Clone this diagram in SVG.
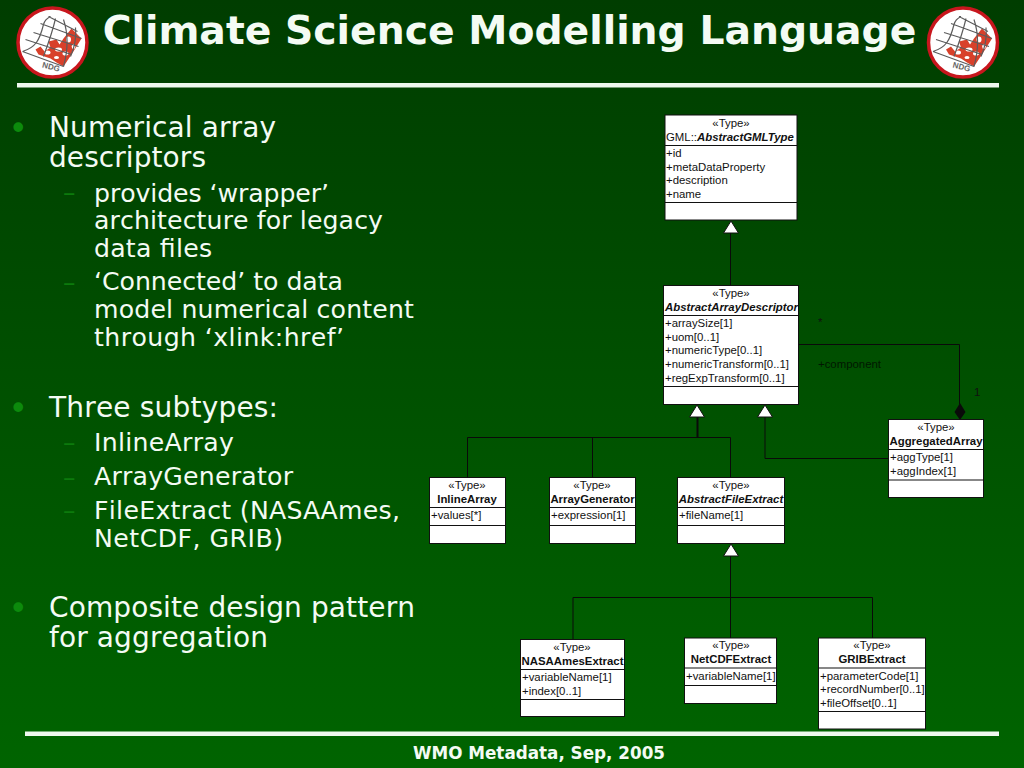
<svg xmlns="http://www.w3.org/2000/svg" xmlns:xlink="http://www.w3.org/1999/xlink" width="1024" height="768" viewBox="0 0 1024 768">
<style>
.t{font-family:"DejaVu Sans",sans-serif;fill:#f4fbf4;font-kerning:none}
.l1{font-size:28px}
.l2{font-size:25.200px}
.b{fill:#0c8a0c;font-family:"DejaVu Sans",sans-serif}
.k{font-size:33px}
.d{font-size:25px;fill:#0c7a0c}
.box{fill:#fff;stroke:#111;stroke-width:1}
.sep{stroke:#111;stroke-width:1.2;fill:none}
.u{font-family:"Liberation Sans",Arial,sans-serif;font-size:11.4px;fill:#111}
.m{text-anchor:middle}
.bd{font-weight:bold}
.bi{font-weight:bold;font-style:italic}
.c{fill:none;stroke:#0a0a0a;stroke-width:1}
.tri{fill:#fff;stroke:#111;stroke-width:1}
.gl{stroke:#5c5c5c;stroke-width:1.200;fill:none}
.rd{fill:#d8402a}
</style>
<defs>
<linearGradient id="bg" x1="0" y1="0" x2="0" y2="1"><stop offset="0" stop-color="#003d00"/><stop offset="1" stop-color="#006400"/></linearGradient>
<g id="logo">
<circle cx="0" cy="0" r="34.500" fill="#fff" stroke="#c8161d" stroke-width="3.500"/>
<path class="rd" d="M-17 7L-12 4L-8 9L-2 5L-4 -1L4 -3L7 2L11 -4L15 -9L19 -14L29 -4L24 4L19 12L15 18L11 24L4 20L-2 16L-8 14L-14 12Z"/>
<g fill="#fff"><ellipse cx="-5" cy="10" rx="3" ry="2"/><ellipse cx="6" cy="7" rx="3.500" ry="2"/><ellipse cx="16" cy="-3" rx="2.500" ry="3"/><ellipse cx="13" cy="11" rx="3" ry="2"/><ellipse cx="4" cy="15" rx="2.500" ry="1.500"/><ellipse cx="21" cy="4" rx="1.800" ry="2.500"/></g>
<path class="gl" d="M-30 9L11 24M-27 -3L19 12M-19 -10L26 4M-12 -19L29 -4M-4 -26L25 -11M-30 9C-17 5 -13 -2 -9 -18C-8 -22 -6 -24 -2 -26M-9 14C-2 -5 1 -15 3 -24M11 24C16 6 16 -8 11 -23M18 14C23 3 24 -5 23 -15"/>
<text x="-2" y="27" font-family="Liberation Sans,sans-serif" font-size="8" font-weight="bold" fill="#666" text-anchor="middle" transform="rotate(14 -2 27)">NDG</text>
</g>
</defs>
<rect width="1024" height="768" fill="url(#bg)"/>
<g id="header">
<use xlink:href="#logo" x="52.500" y="42.500"/>
<use xlink:href="#logo" x="963" y="42.500"/>
<text x="509.500" y="44" class="t m" font-size="39.300" font-weight="bold" fill="#fff">Climate Science Modelling Language</text>
<rect x="17" y="83" width="982" height="4.500" fill="#eef8ee"/>
</g>
<g id="bullets">
<text x="8.500" y="140" class="b k">•</text>
<text x="49" y="137" class="t l1" textLength="227">Numerical array</text>
<text x="49" y="167" class="t l1" textLength="157">descriptors</text>
<text x="63" y="201" class="b d">–</text>
<text x="94" y="201.500" class="t l2" textLength="235">provides ‘wrapper’</text>
<text x="94" y="229" class="t l2" textLength="289">architecture for legacy</text>
<text x="94" y="257" class="t l2" textLength="118">data files</text>
<text x="63" y="291" class="b d">–</text>
<text x="94" y="290" class="t l2" textLength="249">‘Connected’ to data</text>
<text x="94" y="318" class="t l2" textLength="320">model numerical content</text>
<text x="94" y="346" class="t l2" textLength="250">through ‘xlink:href’</text>
<text x="8.500" y="420" class="b k">•</text>
<text x="49" y="417" class="t l1" textLength="229">Three subtypes:</text>
<text x="63" y="451" class="b d">–</text>
<text x="94" y="451" class="t l2" textLength="140">InlineArray</text>
<text x="63" y="486" class="b d">–</text>
<text x="94" y="485" class="t l2" textLength="199">ArrayGenerator</text>
<text x="63" y="519" class="b d">–</text>
<text x="94" y="519" class="t l2" textLength="306">FileExtract (NASAAmes,</text>
<text x="94" y="547" class="t l2" textLength="189">NetCDF, GRIB)</text>
<text x="8.500" y="620" class="b k">•</text>
<text x="49" y="617" class="t l1" textLength="366">Composite design pattern</text>
<text x="49" y="647" class="t l1" textLength="219">for aggregation</text>
</g>
<g id="connectors">
<path class="c" d="M730.500 233V285"/>
<path class="c" d="M697.500 417V437" style="stroke-width:2"/>
<path class="c" d="M467.500 477V437.500H730.500V477M592.500 437.500V477"/>
<path class="c" d="M765 417V458.500H889"/>
<path class="c" d="M799 344.500H959.500V404"/>
<path class="c" d="M730.500 556V638M573 639V597.500H872.500V638"/>
<polygon class="tri" points="731,221 738.500,233 723.500,233"/>
<polygon class="tri" points="697,405 704.500,417 689.500,417"/>
<polygon class="tri" points="765,405 772.500,417 757.500,417"/>
<polygon class="tri" points="731,544 738.500,556 723.500,556"/>
<polygon points="960,403 965.500,412 960,420 954.500,412" fill="#0a0a0a"/>
<text x="818" y="326" class="u">*</text>
<text x="818" y="368" class="u" style="fill:#011801">+component</text>
<text x="974" y="396" class="u">1</text>
</g>
<g id="AbstractGMLType">
<rect class="box" x="665" y="115" width="132" height="105"/>
<path class="sep" d="M665 145.500H797M665 202.500H797"/>
<text x="731" y="127" class="u m">«Type»</text>
<text x="666" y="141" class="u">GML::<tspan class="bi">AbstractGMLType</tspan></text>
<text x="666" y="157" class="u">+id</text><text x="666" y="171" class="u">+metaDataProperty</text><text x="666" y="184" class="u">+description</text><text x="666" y="198" class="u">+name</text>
</g>
<g id="AbstractArrayDescriptor">
<rect class="box" x="663.500" y="285.500" width="135" height="119"/>
<path class="sep" d="M663.500 315.500H798.500M663.500 386.500H798.500"/>
<text x="731" y="297" class="u m">«Type»</text>
<text x="665" y="311" class="u bi">AbstractArrayDescriptor</text>
<text x="665" y="327" class="u">+arraySize[1]</text><text x="665" y="341" class="u">+uom[0..1]</text><text x="665" y="354" class="u">+numericType[0..1]</text><text x="665" y="368" class="u">+numericTransform[0..1]</text><text x="665" y="382" class="u">+regExpTransform[0..1]</text>
</g>
<g id="AggregatedArray">
<rect class="box" x="888.500" y="419.500" width="95" height="78"/>
<path class="sep" d="M888.500 449.500H983.500M888.500 480H983.500"/>
<text x="936" y="431" class="u m">«Type»</text>
<text x="936" y="445" class="u m bd">AggregatedArray</text>
<text x="890" y="461" class="u">+aggType[1]</text><text x="890" y="475" class="u">+aggIndex[1]</text>
</g>
<g id="InlineArray">
<rect class="box" x="429.500" y="477.500" width="76" height="66"/>
<path class="sep" d="M429.500 507.500H505.500M429.500 525.500H505.500"/>
<text x="467" y="489" class="u m">«Type»</text>
<text x="467" y="503" class="u m bd">InlineArray</text>
<text x="431" y="519" class="u">+values[*]</text>
</g>
<g id="ArrayGenerator">
<rect class="box" x="549.500" y="477.500" width="86" height="66"/>
<path class="sep" d="M549.500 507.500H635.500M549.500 525.500H635.500"/>
<text x="592" y="489" class="u m">«Type»</text>
<text x="592.500" y="503" class="u m bd">ArrayGenerator</text>
<text x="551" y="519" class="u">+expression[1]</text>
</g>
<g id="AbstractFileExtract">
<rect class="box" x="677.500" y="477.500" width="107" height="66"/>
<path class="sep" d="M677.500 507.500H784.500M677.500 525.500H784.500"/>
<text x="731" y="489" class="u m">«Type»</text>
<text x="731" y="503" class="u m bi">AbstractFileExtract</text>
<text x="679" y="519" class="u">+fileName[1]</text>
</g>
<g id="NASAAmesExtract">
<rect class="box" x="520.500" y="639.500" width="104" height="77"/>
<path class="sep" d="M520.500 669.500H624.500M520.500 699.500H624.500"/>
<text x="572" y="651" class="u m">«Type»</text>
<text x="572.500" y="665" class="u m bd">NASAAmesExtract</text>
<text x="522" y="681" class="u">+variableName[1]</text><text x="522" y="695" class="u">+index[0..1]</text>
</g>
<g id="NetCDFExtract">
<rect class="box" x="684.500" y="638" width="92" height="65.500"/>
<path class="sep" d="M684.500 668H776.500M684.500 685.500H776.500"/>
<text x="731" y="649" class="u m">«Type»</text>
<text x="731" y="663" class="u m bd">NetCDFExtract</text>
<text x="686" y="680" class="u">+variableName[1]</text>
</g>
<g id="GRIBExtract">
<rect class="box" x="818.500" y="638" width="107" height="91"/>
<path class="sep" d="M818.500 668H925.500M818.500 711.500H925.500"/>
<text x="872" y="649" class="u m">«Type»</text>
<text x="872" y="663" class="u m bd">GRIBExtract</text>
<text x="820" y="680" class="u">+parameterCode[1]</text><text x="820" y="693" class="u">+recordNumber[0..1]</text><text x="820" y="707" class="u">+fileOffset[0..1]</text>
</g>
<g id="footer">
<rect x="25" y="731.500" width="974" height="4.500" fill="#eef8ee"/>
<text x="539" y="759" class="t m" font-size="16.800" font-weight="bold">WMO Metadata, Sep, 2005</text>
</g>
</svg>
